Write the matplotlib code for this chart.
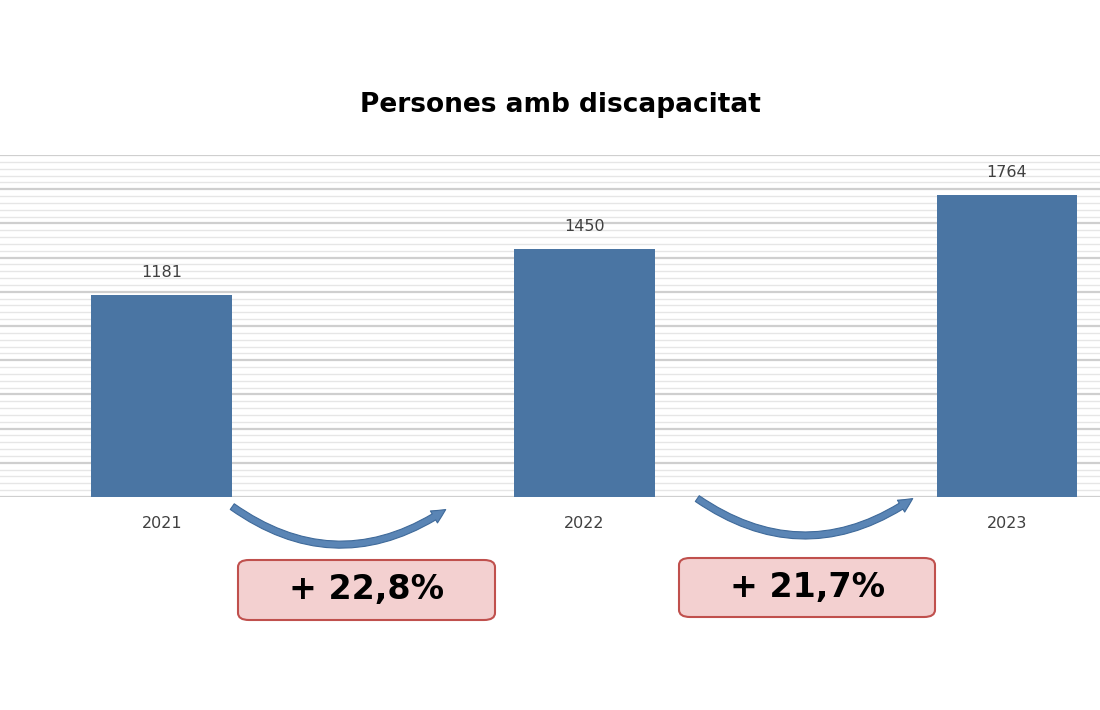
import matplotlib
matplotlib.use("Agg")
import matplotlib.pyplot as plt
from matplotlib.patches import FancyArrowPatch, FancyBboxPatch
import numpy as np

years = ["2021", "2022", "2023"]
values = [1181, 1450, 1764]
changes = ["+ 22,8%", "+ 21,7%"]

W, H = 1100, 710
fig = plt.figure(figsize=(11, 7.1), dpi=100)
ax = fig.add_axes([0, (H-497)/H, 1, (497-155)/H])
x = np.arange(len(years))
ax.set_xlim(-0.383, 2.22)
ax.set_ylim(0, 2000)
for v in np.arange(0, 2001, 40):
    major = v % 200 == 0
    ax.axhline(v, color="#cfcfcf" if major else "#e6e6e6", lw=1.6 if major else 1.0, zorder=0)
ax.bar(x, values, width=0.333, color="#4a75a3", zorder=3)
for xi, v in zip(x, values):
    ax.text(xi, v + 90, str(v), ha="center", va="bottom", fontsize=11.5, color="#404040")
ax.set_xticks(x)
ax.set_xticklabels(years, fontsize=11.5, color="#404040")
ax.tick_params(length=0, pad=14)
ax.set_yticks([])
for s in ax.spines.values():
    s.set_visible(False)

fig.text(560/W, 1-105/H, "Persones amb discapacitat", ha="center", va="center",
         fontsize=19, fontweight="bold")

def fx(px): return px / W
def fy(py): return 1 - py / H

arrows = [((230, 505), (448, 508)), ((695, 497), (915, 497))]
for (a, b) in arrows:
    p = FancyArrowPatch((fx(a[0]), fy(a[1])), (fx(b[0]), fy(b[1])), transform=fig.transFigure,
                        connectionstyle="arc3,rad=0.35", arrowstyle="simple,head_width=10,head_length=10,tail_width=5",
                        color="#5a85b5", ec="#3f6a9a", lw=0.8, zorder=5)
    fig.add_artist(p)

boxes = [(238, 560, 257, 60), (679, 558, 256, 59)]
for (bx, by, bw, bh), t in zip(boxes, changes):
    r = FancyBboxPatch((fx(bx), fy(by+bh)), fx(bw), bh/H, transform=fig.transFigure,
                       boxstyle="round,pad=0,rounding_size=0.01", fc="#f3d0d0", ec="#c0504d", lw=1.5)
    fig.add_artist(r)
    fig.text(fx(bx+bw/2), fy(by+bh/2), t, ha="center", va="center", fontsize=24, fontweight="bold")

fig.savefig("out.png", dpi=100)
